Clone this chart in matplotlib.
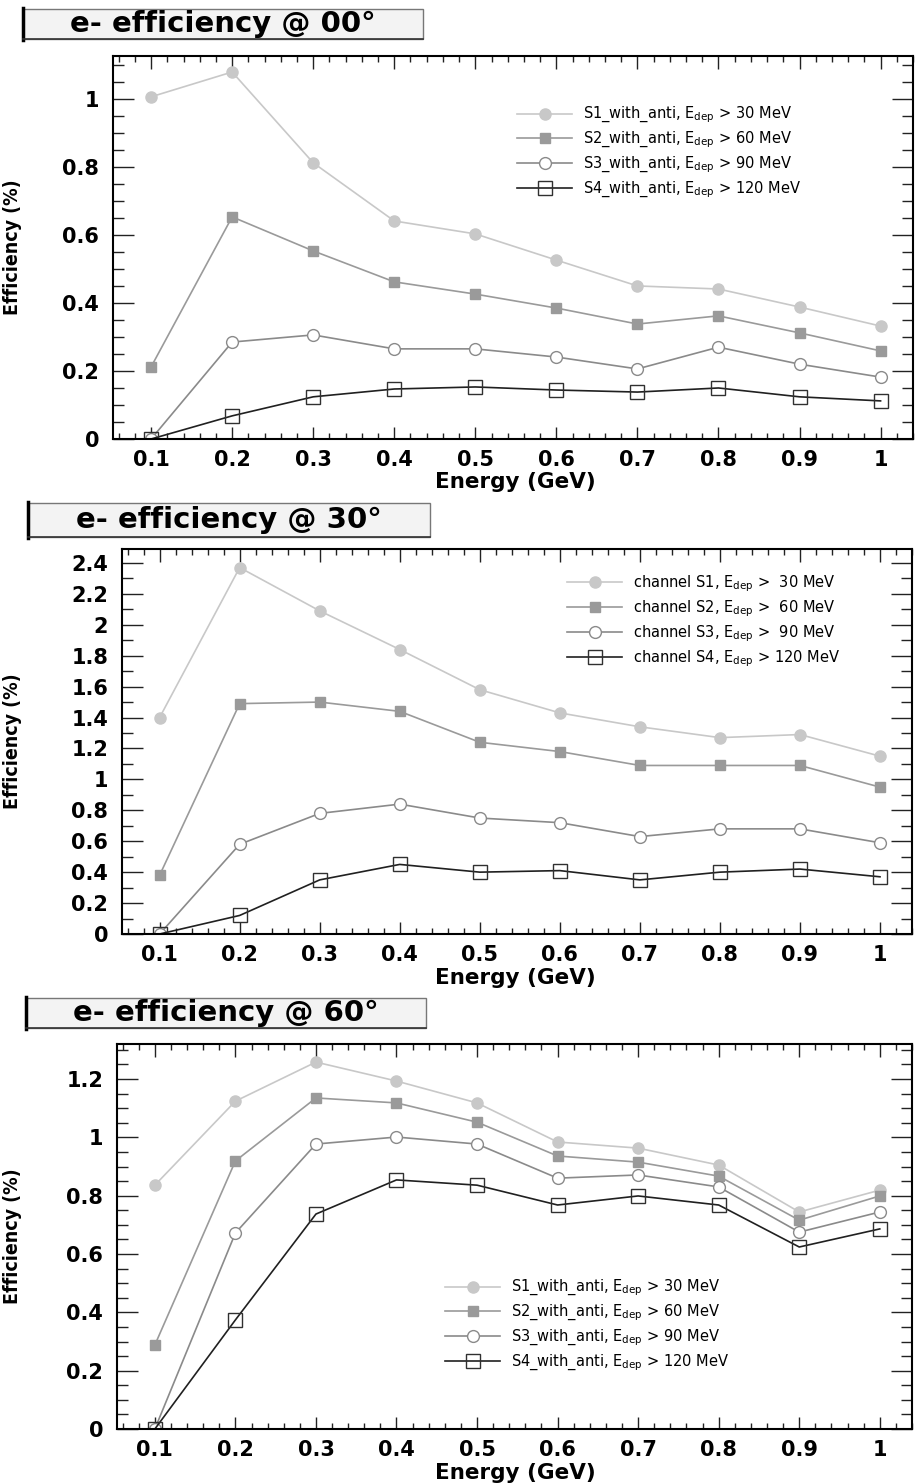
import matplotlib
matplotlib.use("Agg")
import matplotlib.pyplot as plt
from matplotlib.patches import Rectangle
from matplotlib.lines import Line2D
from matplotlib.ticker import MultipleLocator, FuncFormatter

energy = [0.1, 0.2, 0.3, 0.4, 0.5, 0.6, 0.7, 0.8, 0.9, 1.0]

# 0 degrees
s1_00 = [1.006, 1.079, 0.812, 0.641, 0.603, 0.526, 0.450, 0.441, 0.388, 0.332]
s2_00 = [0.212, 0.653, 0.553, 0.462, 0.426, 0.385, 0.338, 0.362, 0.312, 0.259]
s3_00 = [0.0, 0.285, 0.306, 0.265, 0.265, 0.241, 0.206, 0.270, 0.220, 0.182]
s4_00 = [0.0, 0.068, 0.124, 0.147, 0.153, 0.144, 0.138, 0.150, 0.124, 0.112]

# 30 degrees
s1_30 = [1.40, 2.37, 2.09, 1.84, 1.58, 1.43, 1.34, 1.27, 1.29, 1.15]
s2_30 = [0.38, 1.49, 1.50, 1.44, 1.24, 1.18, 1.09, 1.09, 1.09, 0.95]
s3_30 = [0.0, 0.58, 0.78, 0.84, 0.75, 0.72, 0.63, 0.68, 0.68, 0.59]
s4_30 = [0.0, 0.12, 0.35, 0.45, 0.40, 0.41, 0.35, 0.40, 0.42, 0.37]

# 60 degrees
s1_60 = [0.836, 1.124, 1.258, 1.193, 1.118, 0.984, 0.963, 0.905, 0.744, 0.819]
s2_60 = [0.288, 0.919, 1.135, 1.118, 1.052, 0.936, 0.915, 0.867, 0.716, 0.799]
s3_60 = [0.0, 0.672, 0.977, 1.001, 0.977, 0.860, 0.871, 0.830, 0.675, 0.744]
s4_60 = [0.0, 0.374, 0.737, 0.854, 0.836, 0.768, 0.799, 0.768, 0.624, 0.686]

labels_anti = [r"S1_with_anti, E$_{\rm dep}$ > 30 MeV",
               r"S2_with_anti, E$_{\rm dep}$ > 60 MeV",
               r"S3_with_anti, E$_{\rm dep}$ > 90 MeV",
               r"S4_with_anti, E$_{\rm dep}$ > 120 MeV"]
labels_chan = [r"channel S1, E$_{\rm dep}$ >  30 MeV",
               r"channel S2, E$_{\rm dep}$ >  60 MeV",
               r"channel S3, E$_{\rm dep}$ >  90 MeV",
               r"channel S4, E$_{\rm dep}$ > 120 MeV"]

titles = ["e- efficiency @ 00°", "e- efficiency @ 30°", "e- efficiency @ 60°"]

W, H = 915, 1484
fig = plt.figure(figsize=(W / 100, H / 100), dpi=100)
plt.rcParams['font.family'] = ['DejaVu Sans']

styles = [
    dict(color='#c8c8c8', marker='o', ms=8, mfc='#c8c8c8', mec='#c8c8c8'),
    dict(color='#9a9a9a', marker='s', ms=7.5, mfc='#9a9a9a', mec='#9a9a9a'),
    dict(color='#8a8a8a', marker='o', ms=8.5, mfc='white', mec='#8a8a8a'),
    dict(color='#202020', marker='s', ms=9.5, mfc='none', mec='#303030'),
]


def px_axes(l, t, r, b):
    return fig.add_axes([l / W, 1 - b / H, (r - l) / W, (b - t) / H])


def title_box(l, t, r, b, text):
    fig.add_artist(Rectangle((l / W, 1 - b / H), (r - l) / W, (b - t) / H,
                             transform=fig.transFigure, facecolor='#f3f3f3',
                             edgecolor='#777777', lw=1.0))
    fig.add_artist(Line2D([l / W, l / W], [1 - (b + 1) / H, 1 - (t - 1) / H],
                          transform=fig.transFigure, color='black', lw=2.5))
    fig.add_artist(Line2D([l / W, r / W], [1 - b / H, 1 - b / H],
                          transform=fig.transFigure, color='#333333', lw=1.2))
    fig.text((l + r) / 2 / W, 1 - (t + b) / 2 / H, text, ha='center', va='center',
             fontsize=21, fontweight='bold')


def panel(box, ylim, yminor, series, labels, leg_xy, xlab_y):
    l, t, r, b = box
    ax = px_axes(l, t, r, b)
    for ys, st, lab in zip(series, styles, labels):
        ax.plot(energy, ys, lw=1.2, label=lab, **st)
    ax.set_xlim(0.053, 1.04)
    ax.set_ylim(0, ylim)
    ax.xaxis.set_major_locator(MultipleLocator(0.1))
    ax.xaxis.set_minor_locator(MultipleLocator(0.02))
    ax.yaxis.set_major_locator(MultipleLocator(0.2))
    ax.yaxis.set_minor_locator(MultipleLocator(yminor))
    fmt = FuncFormatter(lambda v, p: "%g" % round(v, 2))
    ax.xaxis.set_major_formatter(fmt)
    ax.yaxis.set_major_formatter(fmt)
    ax.tick_params(axis='both', which='both', direction='in', top=True, right=True,
                   width=1.0, color='#222222')
    ax.tick_params(axis='x', which='major', length=9, pad=8)
    ax.tick_params(axis='x', which='minor', length=4.5)
    ax.tick_params(axis='y', which='major', length=15, pad=10)
    ax.tick_params(axis='y', which='minor', length=8)
    for lab in ax.get_xticklabels() + ax.get_yticklabels():
        lab.set_fontweight('bold')
        lab.set_fontsize(15)
    for sp in ax.spines.values():
        sp.set_linewidth(1.5)
    ax.set_ylabel("Efficiency (%)", fontsize=14, fontweight='bold',
                  fontstretch='condensed')
    ax.yaxis.set_label_coords((22 - l) / (r - l), 0.5)
    fig.text(515 / W, 1 - xlab_y / H, "Energy (GeV)", ha='center', va='center',
             fontsize=15.5, fontweight='bold')
    ax.legend(loc='upper left', bbox_to_anchor=(leg_xy[0] / W, 1 - leg_xy[1] / H),
              bbox_transform=fig.transFigure, frameon=False, fontsize=10.5,
              handlelength=3.8, handletextpad=0.7, labelspacing=0.3,
              borderpad=0, borderaxespad=0)
    return ax


title_box(23, 9, 423, 39, titles[0])
panel((113, 56, 913, 439), 1.126, 0.05, [s1_00, s2_00, s3_00, s4_00],
      labels_anti, (517, 105), 482)

title_box(28, 503, 430, 537, titles[1])
panel((122, 549, 912, 934), 2.49, 0.1, [s1_30, s2_30, s3_30, s4_30],
      labels_chan, (567, 573), 978)

title_box(26, 998, 426, 1028, titles[2])
panel((117, 1044, 912, 1429), 1.32, 0.05, [s1_60, s2_60, s3_60, s4_60],
      labels_anti, (445, 1278), 1473)

fig.savefig("out.png", dpi=100)
print("Saved out.png")
